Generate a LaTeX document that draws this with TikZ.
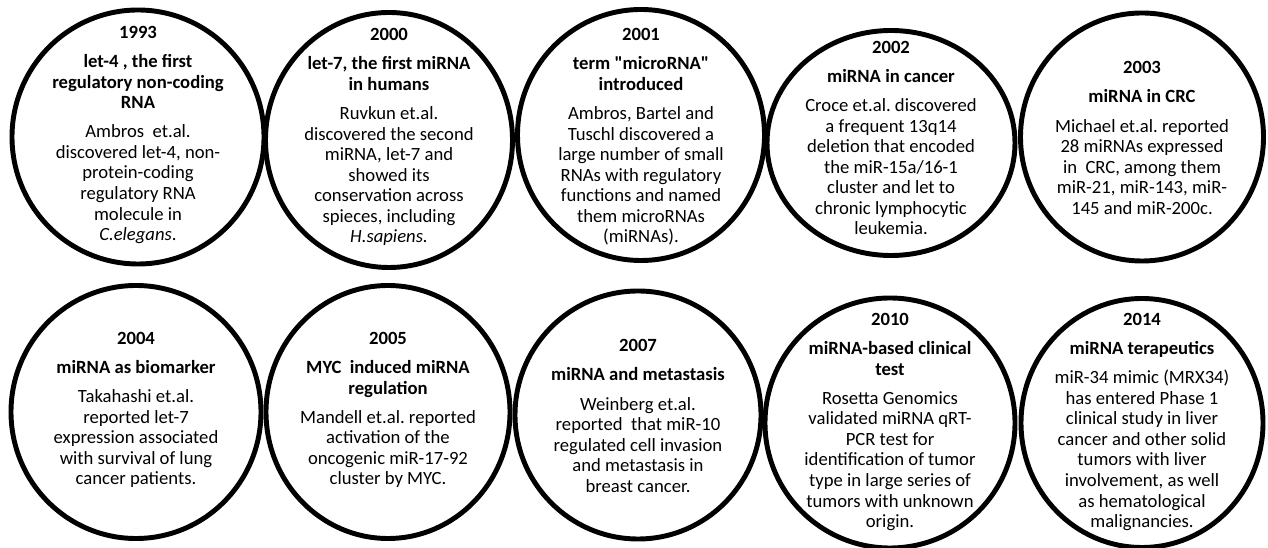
\documentclass[tikz,border=0pt]{standalone}
\usepackage{fontspec}
\setmainfont{Carlito}[Ligatures=TeXOff]
\frenchspacing
\usetikzlibrary{shapes.geometric}
\newcommand{\entryfont}{\fontsize{14}{15.4}\selectfont\lineskiplimit -20pt\relax}
\tikzset{
ring/.style 2 args={draw, ellipse, line width=3.7pt, inner sep=0pt,
  minimum width=#1*0.75pt, minimum height=#2*0.75pt}, % the black rings, size in px
entry/.style={align=center, inner sep=0pt, font=\entryfont}, % text set inside a ring
}
\newcommand{\hd}[1]{\textbf{#1}} % bold year and title lines

\begin{document}
\begin{tikzpicture}[x=0.75pt, y=-0.75pt]%one unit = one pixel of the figure
  \useasboundingbox (0,0) rectangle (1268,548);

  % upper row
  \node[ring={252}{254}] (r1) at (138,137) {};
  \node[ring={247}{255}] (r2) at (389,140) {};
  \node[ring={247}{251}] (r3) at (641,135) {};
  \node[ring={248}{225}] (r4) at (891,143) {};
  \node[ring={243}{248}] (r5) at (1142,137) {};

  % lower row
  \node[ring={250}{253}] (r6) at (136,412) {};
  \node[ring={244}{253}] (r7) at (388,412) {};
  \node[ring={246}{248}] (r8) at (638,415) {};
  \node[ring={250}{250}] (r9) at (890,423) {};
  \node[ring={242}{249}] (r10) at (1142,423) {};

  \node[entry] (t1) at (138,135) {\hd{1993}\\[6.5pt]
    \hd{let-4 , the first}\\ \hd{regulatory non-coding}\\ \hd{RNA}\\[6.5pt]
    Ambros\ \ et.al.\\ discovered let-4, non-\\ protein-coding\\
    regulatory RNA\\ molecule in\\ \textit{C.elegans}.};
  \node[entry] (t2) at (389,137) {\hd{2000}\\[6.5pt]
    \hd{let-7, the first miRNA}\\ \hd{in humans}\\[6.5pt]
    Ruvkun et.al.\\ discovered the second\\ miRNA, let-7 and\\
    showed its\\ conservation across\\ spieces, including\\ \textit{H.sapiens.}};
  \node[entry] (t3) at (641,137) {\hd{2001}\\[6.5pt]
    \hd{term "microRNA"}\\ \hd{introduced}\\[6.5pt]
    Ambros, Bartel and\\ Tuschl discovered a\\ large number of small\\
    RNAs with regulatory\\ functions and named\\ them microRNAs\\ (miRNAs).};
  \node[entry] (t4) at (891,138) {\hd{2002}\\[6.5pt]
    \hd{miRNA in cancer}\\[6.5pt]
    Croce et.al. discovered\\ a frequent 13q14\\ deletion that encoded\\
    the miR-15a/16-1\\ cluster and let to\\ chronic lymphocytic\\ leukemia.};
  \node[entry] (t5) at (1142,138) {\hd{2003}\\[6.5pt]
    \hd{miRNA in CRC}\\[6.5pt]
    Michael et.al. reported\\ 28 miRNAs expressed\\ in\ \ CRC, among them\\
    miR-21, miR-143, miR-\\ 145 and miR-200c.};

  \node[entry] (t6) at (136,410) {\hd{2004}\\[6.5pt]
    \hd{miRNA as biomarker}\\[6.5pt]
    Takahashi et.al.\\ reported let-7\\ expression associated\\
    with survival of lung\\ cancer patients.};
  \node[entry] (t7) at (388,410) {\hd{2005}\\[6.5pt]
    \hd{MYC\ \ induced miRNA}\\ \hd{regulation}\\[6.5pt]
    Mandell et.al. reported\\ activation of the\\ oncogenic miR-17-92\\
    cluster by MYC.};
  \node[entry] (t8) at (638,416) {\hd{2007}\\[6.5pt]
    \hd{miRNA and metastasis}\\[6.5pt]
    Weinberg et.al.\\ reported\ \ that miR-10\\ regulated cell invasion\\
    and metastasis in\\ breast cancer.};
  \node[entry] (t9) at (890,422) {\hd{2010}\\[6.5pt]
    \hd{miRNA-based clinical}\\ \hd{test}\\[6.5pt]
    Rosetta Genomics\\ validated miRNA qRT-\\ PCR test for\\
    identification of tumor\\ type in large series of\\ tumors with unknown\\ origin.};
  \node[entry] (t10) at (1142,422) {\hd{2014}\\[6.5pt]
    \hd{miRNA terapeutics}\\[6.5pt]
    miR-34 mimic (MRX34)\\ has entered Phase 1\\ clinical study in liver\\
    cancer and other solid\\ tumors with liver\\ involvement, as well\\
    as hematological\\ malignancies.};
\end{tikzpicture}
\end{document}
